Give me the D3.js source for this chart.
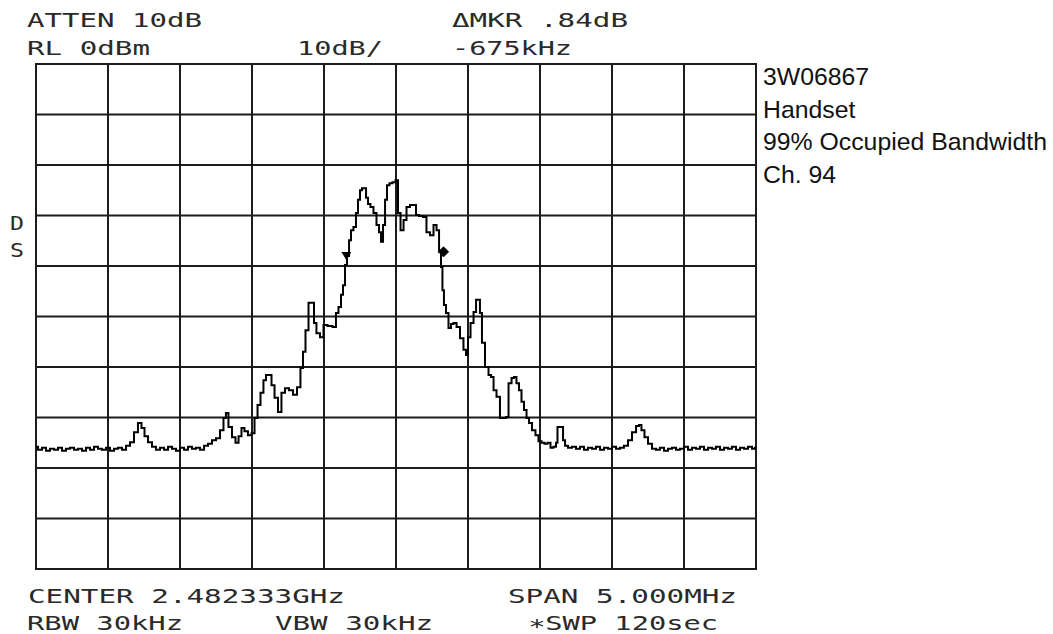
<!DOCTYPE html>
<html>
<head>
<meta charset="utf-8">
<script src="https://d3js.org/d3.v7.min.js"></script>
<style>
  body { margin: 0; background: white; }
  svg { display: block; }
  .hp { font-family: 'DejaVu Sans Mono', monospace; font-size: 20px; fill: #2a2a2a; }
  .note { font-family: 'Liberation Sans', Arial, sans-serif; font-size: 24.8px; fill: #111; }
</style>
</head>
<body>
<svg id="chart" width="1053" height="634"></svg>
<script>
// frequency offset from center (kHz) and measured level (dBm)
var freqKHz = [
  -2500, -2472, -2444, -2417, -2389, -2361, -2333, -2306, -2278, -2250,
  -2222, -2194, -2167, -2139, -2111, -2083, -2056, -2028, -2000, -1972,
  -1944, -1917, -1889, -1861, -1833, -1806, -1778, -1757, -1736, -1708,
  -1681, -1653, -1625, -1597, -1569, -1542, -1514, -1486, -1458, -1431,
  -1403, -1375, -1347, -1319, -1292, -1264, -1236, -1208, -1188, -1174,
  -1153, -1125, -1104, -1083, -1063, -1042, -1014, -993, -972, -951,
  -931, -910, -896, -875, -854, -833, -806, -785, -757, -729,
  -701, -674, -653, -639, -618, -597, -576, -563, -542, -514,
  -493, -458, -424, -410, -389, -375, -361, -347, -333, -319,
  -306, -285, -271, -257, -243, -229, -215, -201, -188, -167,
  -146, -125, -111, -97, -83, -69, -56, -35, -14, 7,
  21, 42, 63, 83, 111, 132, 146, 174, 201, 222,
  250, 271, 292, 306, 319, 326, 340, 354, 375, 389,
  410, 431, 458, 479, 493, 507, 528, 549, 563, 576,
  590, 604, 632, 653, 667, 688, 708, 736, 757, 771,
  792, 813, 826, 847, 861, 882, 896, 917, 931, 958,
  979, 1000, 1021, 1042, 1063, 1083, 1104, 1118, 1125, 1153,
  1167, 1181, 1208, 1236, 1264, 1292, 1319, 1347, 1375, 1403,
  1431, 1458, 1486, 1514, 1542, 1569, 1597, 1625, 1653, 1681,
  1694, 1715, 1736, 1764, 1792, 1819, 1847, 1875, 1903, 1931,
  1958, 1986, 2014, 2042, 2069, 2097, 2125, 2153, 2181, 2208,
  2236, 2264, 2292, 2319, 2347, 2375, 2403, 2431, 2458, 2486, 2500
];
var levelDbm = [
  -75.8, -76.4, -76.0, -76.6, -76.2, -76.4, -76.0, -76.6, -76.2, -76.0,
  -76.4, -76.2, -76.6, -76.0, -76.4, -75.8, -76.2, -76.4, -76.0, -76.6,
  -76.2, -76.0, -76.4, -75.6, -74.9, -72.9, -71.1, -72.1, -73.7, -74.9,
  -75.8, -76.4, -76.0, -76.4, -75.8, -76.2, -76.6, -76.0, -76.4, -75.8,
  -76.2, -76.0, -76.4, -75.6, -75.2, -74.5, -74.1, -72.5, -70.1, -69.1,
  -71.9, -73.9, -75.0, -73.7, -72.1, -72.7, -73.5, -73.1, -70.1, -67.5,
  -65.1, -62.6, -61.6, -61.6, -63.6, -66.1, -68.9, -65.1, -64.2, -64.6,
  -65.5, -64.0, -60.2, -57.0, -52.7, -47.3, -47.3, -51.3, -53.3, -54.1,
  -51.7, -51.9, -52.1, -49.3, -48.1, -45.7, -43.8, -39.8, -38.0, -34.9,
  -32.9, -32.3, -29.5, -26.9, -25.0, -24.6, -24.6, -26.5, -27.7, -28.3,
  -29.5, -31.9, -33.3, -35.2, -31.9, -26.9, -24.0, -23.6, -23.4, -23.0,
  -29.5, -32.9, -30.9, -28.3, -27.9, -27.9, -29.9, -30.1, -30.3, -33.3,
  -33.9, -31.9, -32.9, -37.2, -40.2, -44.8, -47.7, -49.3, -52.3, -51.5,
  -51.3, -52.1, -54.3, -56.6, -57.6, -54.1, -51.3, -49.1, -46.7, -46.7,
  -49.3, -55.2, -60.0, -61.6, -62.0, -64.6, -65.9, -70.1, -70.1, -69.9,
  -63.2, -62.2, -62.0, -63.2, -64.6, -66.9, -68.5, -70.1, -71.1, -72.5,
  -73.5, -74.7, -75.0, -75.2, -75.0, -76.0, -75.8, -75.0, -71.9, -71.9,
  -74.5, -75.6, -76.0, -75.8, -76.2, -75.8, -76.4, -76.0, -76.2, -75.8,
  -76.4, -76.0, -76.2, -75.8, -76.2, -76.0, -75.6, -74.5, -72.9, -71.7,
  -71.5, -72.5, -73.9, -75.2, -76.2, -76.4, -76.0, -76.6, -76.2, -76.0,
  -76.4, -76.2, -75.8, -76.4, -76.0, -76.2, -75.8, -76.4, -76.0, -76.2,
  -75.8, -76.4, -76.0, -76.2, -75.8, -76.4, -76.0, -76.2, -75.8, -76.2, -76.0
];
// delta markers
var markerKHz = [-345, 330];
var markerDbm = [-38.0, -37.2];

var freqTicks = d3.range(-2500, 2501, 500);
var levelTicks = d3.range(0, -101, -10);

var headerLines = [
  ['ATTEN 10dB', 27, 27, 175],
  ['RL 0dBm', 27, 55, 123],
  ['10dB/', 297, 55, 86],
  ['\u0394MKR .84dB', 452, 27, 176],
  ['-675kHz', 452, 55, 120],
  ['CENTER 2.482333GHz', 28, 603, 317],
  ['SPAN 5.000MHz', 508, 603, 229],
  ['RBW 30kHz', 27, 630, 156],
  ['VBW 30kHz', 275, 630, 158],
  ['\u2217SWP 120sec', 528, 630, 190],
  ['D', 10, 230, 14],
  ['S', 10, 257, 14]
];
var notes = ['3W06867', 'Handset', '99% Occupied Bandwidth', 'Ch. 94'];

var svg = d3.select('#chart');
svg.append('rect').attr('width', 1053).attr('height', 634).attr('fill', 'white');

var x = d3.scaleLinear().domain([-2500, 2500]).range([36, 756]);
var y = d3.scaleLinear().domain([0, -100]).range([64, 569]);

// graticule
var grid = svg.append('g').attr('stroke', '#1c1c1c').attr('stroke-width', 2);
grid.selectAll('.v').data(freqTicks).join('line')
  .attr('x1', d => x(d)).attr('x2', d => x(d))
  .attr('y1', y(0) - 1).attr('y2', y(-100) + 1);
grid.selectAll('.h').data(levelTicks).join('line')
  .attr('x1', x(-2500) - 1).attr('x2', x(2500) + 1)
  .attr('y1', d => y(d)).attr('y2', d => y(d));

// trace
var trace = freqKHz.map((f, i) => [f, levelDbm[i]]);
var line = d3.line().x(d => x(d[0])).y(d => y(d[1])).curve(d3.curveStep);
svg.append('path').datum(trace)
  .attr('d', line)
  .attr('fill', 'none')
  .attr('stroke', '#000')
  .attr('stroke-width', 2)
  .attr('stroke-linejoin', 'miter');

// markers: reference triangle and delta diamond
var mx0 = x(markerKHz[0]), my0 = y(markerDbm[0]);
svg.append('path')
  .attr('d', 'M' + (mx0 - 5) + ',' + (my0 - 4) + 'L' + (mx0 + 5) + ',' + (my0 - 4) + 'L' + mx0 + ',' + (my0 + 4) + 'Z')
  .attr('fill', '#000');
var mx1 = x(markerKHz[1]), my1 = y(markerDbm[1]);
svg.append('path')
  .attr('d', 'M' + mx1 + ',' + (my1 - 5) + 'L' + (mx1 + 5) + ',' + my1 + 'L' + mx1 + ',' + (my1 + 5) + 'L' + (mx1 - 5) + ',' + my1 + 'Z')
  .attr('fill', '#000').attr('stroke', '#000').attr('stroke-width', 1);

// analyzer annotations
svg.selectAll('.hp').data(headerLines).join('text')
  .attr('class', 'hp')
  .attr('x', d => d[1]).attr('y', d => d[2])
  .attr('textLength', d => d[3])
  .attr('lengthAdjust', 'spacingAndGlyphs')
  .text(d => d[0]);

svg.selectAll('.note').data(notes).join('text')
  .attr('class', 'note')
  .attr('x', 763)
  .attr('y', (d, i) => 85 + i * 32.5)
  .text(d => d);
</script>
</body>
</html>
